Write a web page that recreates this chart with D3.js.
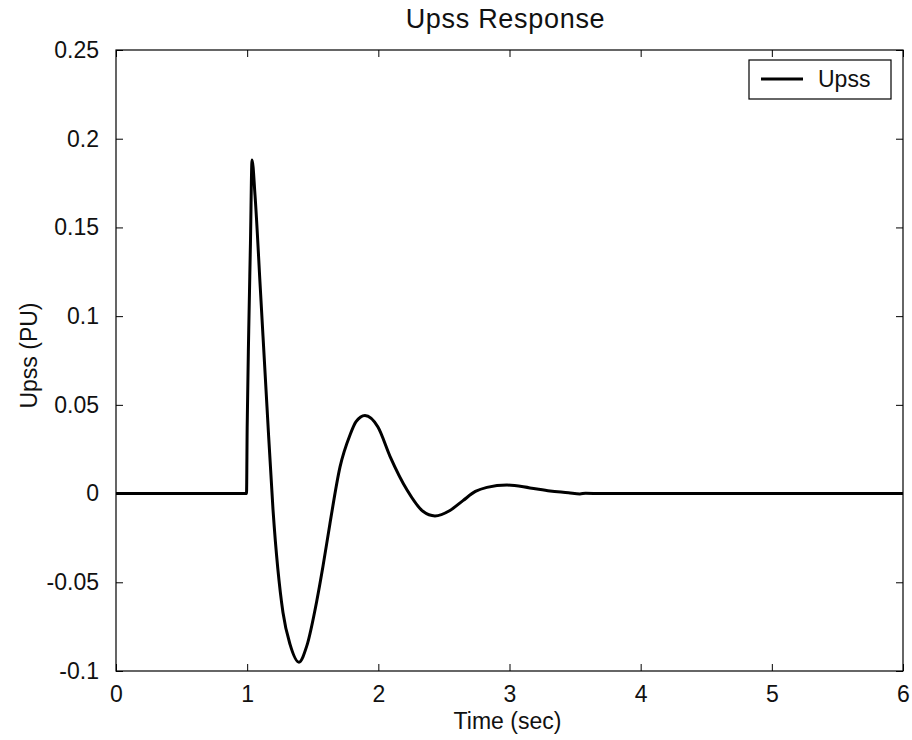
<!DOCTYPE html>
<html>
<head>
<meta charset="utf-8">
<script src="https://cdn.jsdelivr.net/npm/d3@7"></script>
<style>
  body { margin: 0; background: #fff; }
  text { font-family: "Liberation Sans", Arial, sans-serif; fill: #111; }
</style>
</head>
<body>
<div id="chart"></div>
<script>
// time (sec) and Upss (PU)
const time = [0, 0.995, 1.0, 1.012, 1.025, 1.037, 1.06, 1.10, 1.151,
  1.197, 1.273, 1.327, 1.395, 1.454, 1.532, 1.578, 1.631, 1.708, 1.784, 1.83, 1.898, 1.997, 2.089, 2.219,
  2.34, 2.432, 2.546, 2.645, 2.74, 2.828, 2.981, 3.156, 3.309, 3.45, 3.537, 3.58, 3.7, 6]
const upss = [0, 0, 0.037, 0.092, 0.141, 0.188, 0.168, 0.116, 0.049,
  -0.009, -0.067, -0.085, -0.095, -0.086, -0.060, -0.041, -0.017, 0.015, 0.033, 0.0405, 0.044, 0.0375, 0.021, 0.002,
  -0.010, -0.0126, -0.0095, -0.004, 0.0012, 0.0035, 0.0048, 0.0032, 0.0015, 0.0005, -0.0002, 0.0002, 0, 0]

const xTicks = [0, 1, 2, 3, 4, 5, 6]
const yTicks = [-0.1, -0.05, 0, 0.05, 0.1, 0.15, 0.2, 0.25]
const yTickLabels = ["-0.1", "-0.05", "0", "0.05", "0.1", "0.15", "0.2", "0.25"]

const width = 912,
    height = 740,
    margin = {top: 50, right: 9, bottom: 69, left: 116}

const svg = d3.select("#chart")
  .append("svg")
    .attr("width", width)
    .attr("height", height)

const x = d3.scaleLinear().domain([0, 6]).range([margin.left, width - margin.right])
const y = d3.scaleLinear().domain([-0.1, 0.25]).range([height - margin.bottom, margin.top])

const tickLen = 7

// axes: inward ticks on all four sides, matlab style
const axisStyle = g => {
  g.select(".domain").remove()
  g.selectAll("line").attr("stroke", "#000")
  g.selectAll("text").style("font-size", "23px")
}

svg.append("g")
  .attr("transform", `translate(0,${y(-0.1)})`)
  .call(d3.axisBottom(x).tickValues(xTicks).tickSize(-tickLen).tickPadding(15).tickFormat(d3.format("d")))
  .call(axisStyle)

svg.append("g")
  .attr("transform", `translate(0,${y(0.25)})`)
  .call(d3.axisTop(x).tickValues(xTicks).tickSize(-tickLen).tickFormat(""))
  .call(axisStyle)

svg.append("g")
  .attr("transform", `translate(${x(0)},0)`)
  .call(d3.axisLeft(y).tickValues(yTicks).tickSize(-tickLen).tickPadding(17)
    .tickFormat((d, i) => yTickLabels[i]))
  .call(axisStyle)

svg.append("g")
  .attr("transform", `translate(${x(6)},0)`)
  .call(d3.axisRight(y).tickValues(yTicks).tickSize(-tickLen).tickFormat(""))
  .call(axisStyle)

// frame
svg.append("rect")
  .attr("x", x(0)).attr("y", y(0.25))
  .attr("width", x(6) - x(0)).attr("height", y(-0.1) - y(0.25))
  .attr("fill", "none").attr("stroke", "#000").attr("stroke-width", 1.2)

// response curve
const line = d3.line()
  .x(d => x(d[0]))
  .y(d => y(d[1]))
  .curve(d3.curveMonotoneX)

svg.append("path")
  .datum(d3.zip(time, upss))
  .attr("d", line)
  .attr("fill", "none")
  .attr("stroke", "#000")
  .attr("stroke-width", 3)

// titles
svg.append("text")
  .attr("x", (x(0) + x(6)) / 2 - 4).attr("y", 28)
  .attr("text-anchor", "middle")
  .style("font-size", "27px").style("letter-spacing", "0.7px")
  .text("Upss Response")

svg.append("text")
  .attr("x", (x(0) + x(6)) / 2 - 2).attr("y", 729)
  .attr("text-anchor", "middle")
  .style("font-size", "23px")
  .text("Time (sec)")

svg.append("text")
  .attr("transform", `translate(37,${(y(0.25) + y(-0.1)) / 2 - 5}) rotate(-90)`)
  .attr("text-anchor", "middle")
  .style("font-size", "23px")
  .text("Upss (PU)")

// legend
const legend = svg.append("g")
legend.append("rect")
  .attr("x", 749).attr("y", 60).attr("width", 142).attr("height", 39)
  .attr("fill", "#fff").attr("stroke", "#000").attr("stroke-width", 1.2)
legend.append("line")
  .attr("x1", 761).attr("x2", 803).attr("y1", 79).attr("y2", 79)
  .attr("stroke", "#000").attr("stroke-width", 3)
legend.append("text")
  .attr("x", 818).attr("y", 87)
  .style("font-size", "23px")
  .text("Upss")
</script>
</body>
</html>
